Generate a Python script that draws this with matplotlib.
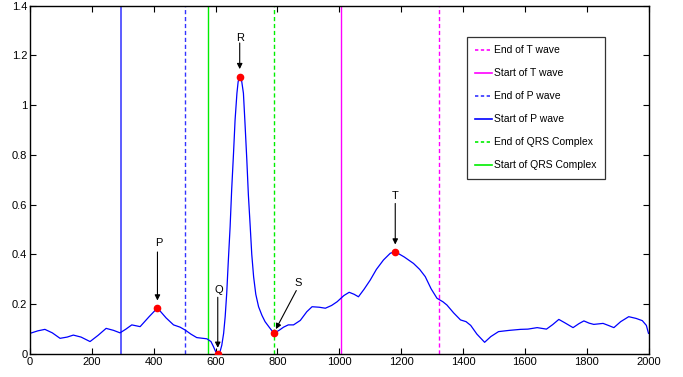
import matplotlib
matplotlib.use("Agg")
import matplotlib.pyplot as plt
from matplotlib.lines import Line2D

plt.rcParams['font.family'] = ['Liberation Sans Narrow', 'Liberation Sans', 'DejaVu Sans']

curve_x = [0, 25, 48, 72, 97, 120, 140, 165, 194, 220, 246, 270, 291, 310, 329, 356, 385,
           412, 440, 464, 485, 502, 520, 539, 572, 585, 593, 600, 607, 615, 620, 626, 631,
           636, 641, 647, 652, 658, 663, 669, 673, 678, 684, 690, 695, 701, 706, 712, 717,
           723, 730, 739, 750, 760, 775, 789, 805, 820, 835, 852, 874,
           895, 912, 935, 955, 975, 993, 1015, 1032, 1048, 1062, 1080, 1100, 1120, 1143,
           1165, 1181, 1210, 1240, 1260, 1278, 1297, 1316, 1335, 1348, 1370, 1392, 1410,
           1425, 1445, 1470, 1490, 1515, 1550, 1586, 1610, 1640, 1670, 1690, 1710, 1730,
           1756, 1775, 1791, 1808, 1823, 1853, 1870, 1888, 1910, 1936, 1960, 1980, 1993, 2000]
curve_y = [0.083, 0.093, 0.099, 0.085, 0.063, 0.068, 0.076, 0.068, 0.050, 0.075, 0.103,
           0.095, 0.085, 0.100, 0.117, 0.110, 0.150, 0.185, 0.145, 0.117, 0.108, 0.096,
           0.080, 0.066, 0.061, 0.050, 0.030, 0.010, 0.000, 0.012, 0.035, 0.083, 0.150,
           0.244, 0.370, 0.512, 0.660, 0.807, 0.940, 1.048, 1.095, 1.115, 1.100, 1.048,
           0.930, 0.780, 0.640, 0.512, 0.400, 0.310, 0.240, 0.190, 0.155, 0.130, 0.105,
           0.083, 0.095, 0.108, 0.117, 0.117, 0.135, 0.170, 0.190, 0.188, 0.184, 0.195,
           0.210, 0.235, 0.248, 0.240, 0.230, 0.260, 0.297, 0.340, 0.378, 0.405, 0.411,
           0.390, 0.364, 0.340, 0.311, 0.262, 0.224, 0.210, 0.197, 0.165, 0.137, 0.130,
           0.115, 0.080, 0.047, 0.070, 0.090, 0.095, 0.099, 0.100, 0.106, 0.100, 0.118,
           0.139, 0.125, 0.106, 0.122, 0.133, 0.124, 0.119, 0.123, 0.115, 0.106, 0.130,
           0.150, 0.143, 0.134, 0.115, 0.083]

# Fiducial points
wave_labels = ['P', 'Q', 'R', 'S', 'T']
wave_x = [412, 607, 678, 789, 1181]
wave_y = [0.185, 0.0, 1.115, 0.083, 0.411]

# Boundary markers
boundary_names = ['End of T wave', 'Start of T wave', 'End of P wave', 'Start of P wave',
                  'End of QRS Complex', 'Start of QRS Complex']
boundary_x = [1322, 1007, 502, 295, 789, 577]
boundary_colors = ['#ff00ff', '#ff00ff', '#3333ff', '#5c5cff', '#00ee00', '#00ee00']
boundary_styles = ['--', '-', '--', '-', '--', '-']

fig = plt.figure(figsize=(6.83, 3.77), dpi=100)
ax = fig.add_axes([0.044, 0.061, 0.9055, 0.924])

handles = []
for i, (name, bx, c, ls) in enumerate(zip(boundary_names, boundary_x, boundary_colors, boundary_styles)):
    lw = 1.4 if i == 3 else 1.0
    ax.axvline(bx, color=c, linestyle=ls, linewidth=lw, dashes=(3, 2) if ls == '--' else (None, None))
    handles.append(Line2D([], [], color=('#0000ff' if i == 3 else c), linestyle=ls, linewidth=1.2,
                          dashes=(2, 1.5) if ls == '--' else (None, None)))

ax.plot(curve_x, curve_y, color='#0000ff', linewidth=0.9)
ax.plot(wave_x, wave_y, 'o', color='red', markersize=4.5, zorder=5)

arrow_kw = dict(arrowstyle='-|>', color='black', lw=0.8, mutation_scale=8,
                shrinkA=0, shrinkB=0)
ax.annotate('', xy=(412, 0.215), xytext=(412, 0.41), arrowprops=arrow_kw)
ax.text(415, 0.445, 'P', ha='center', va='center', fontsize=8)
ax.annotate('', xy=(607, 0.025), xytext=(607, 0.228), arrowprops=arrow_kw)
ax.text(609, 0.258, 'Q', ha='center', va='center', fontsize=8)
ax.annotate('', xy=(678, 1.145), xytext=(678, 1.25), arrowprops=arrow_kw)
ax.text(680, 1.27, 'R', ha='center', va='center', fontsize=8)
ax.annotate('', xy=(795, 0.1), xytext=(861, 0.255), arrowprops=arrow_kw)
ax.text(868, 0.285, 'S', ha='center', va='center', fontsize=8)
ax.annotate('', xy=(1181, 0.44), xytext=(1181, 0.605), arrowprops=arrow_kw)
ax.text(1181, 0.635, 'T', ha='center', va='center', fontsize=8)

ax.set_xlim(0, 2000)
ax.set_ylim(0, 1.4)
ax.set_xticks(range(0, 2001, 200))
ax.set_yticks([0, 0.2, 0.4, 0.6, 0.8, 1.0, 1.2, 1.4])
ax.set_yticklabels(['0', '0.2', '0.4', '0.6', '0.8', '1', '1.2', '1.4'])
ax.tick_params(direction='in', top=True, right=True, length=4, width=0.8,
               labelsize=8, pad=2)
for s in ax.spines.values():
    s.set_linewidth(1.0)

leg = ax.legend(handles, boundary_names, loc='upper left',
                bbox_to_anchor=(0.7066, 0.910), fontsize=7.5, frameon=True,
                fancybox=False, edgecolor='black', handlelength=1.6,
                handletextpad=0.2, labelspacing=1.25, borderpad=0.8, borderaxespad=0)
leg.get_frame().set_linewidth(0.9)

fig.savefig('out.png', dpi=100)
